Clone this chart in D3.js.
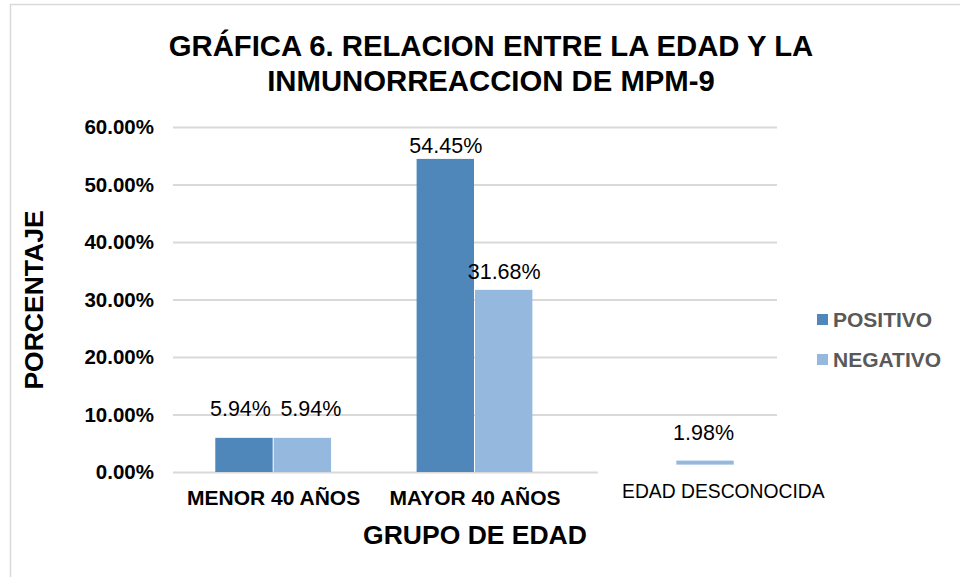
<!DOCTYPE html>
<html>
<head>
<meta charset="utf-8">
<script src="https://cdn.jsdelivr.net/npm/d3@7"></script>
<style>
  body { margin: 0; background: #fff; }
  svg { display: block; font-family: "Liberation Sans", Arial, sans-serif; }
</style>
</head>
<body>
<div id="chart"></div>
<script>
// datos
const categories = ["MENOR 40 AÑOS", "MAYOR 40 AÑOS", "EDAD DESCONOCIDA"];
const seriesNames = ["POSITIVO", "NEGATIVO"];
const positivo = [5.94, 54.45, null];
const negativo = [5.94, 31.68, 1.98];
const yTicks = [0, 10, 20, 30, 40, 50, 60];
const titleLines = ["GRÁFICA 6. RELACION ENTRE LA EDAD Y LA", "INMUNORREACCION DE MPM-9"];

const W = 960, H = 577;
const colors = { POSITIVO: "#4f87bb", NEGATIVO: "#95b8df" };

const svg = d3.select("#chart").append("svg")
  .attr("width", W).attr("height", H);

// marco del gráfico
svg.append("rect")
  .attr("x", 10.5).attr("y", 4.5)
  .attr("width", W).attr("height", H)
  .attr("fill", "#fff").attr("stroke", "#d9d9d9").attr("stroke-width", 1.5);

// escalas
const x = d3.scaleBand()
  .domain(categories)
  .range([173, 777])
  .paddingInner(0.42)
  .paddingOuter(0.21);

const x1 = d3.scaleBand()
  .domain(seriesNames)
  .range([0, x.bandwidth()]);

const y = d3.scaleLinear()
  .domain([0, 60])
  .range([472, 127]);

// título
svg.append("text")
  .attr("x", 491).attr("y", 56)
  .attr("text-anchor", "middle")
  .attr("font-size", 29.3).attr("font-weight", "bold").attr("fill", "#000")
  .selectAll("tspan").data(titleLines).enter().append("tspan")
  .attr("x", 491).attr("dy", (d, i) => i ? 35 : 0)
  .text(d => d);

// eje Y + líneas de cuadrícula
const yAxis = svg.append("g")
  .attr("transform", "translate(173,0)")
  .call(d3.axisLeft(y).tickValues(yTicks)
    .tickSize(-(777 - 173)).tickPadding(19)
    .tickFormat(d => d3.format(".2f")(d) + "%"));
yAxis.select(".domain").remove();
yAxis.selectAll(".tick line").attr("stroke", "#d9d9d9").attr("stroke-width", 2);
yAxis.selectAll(".tick text")
  .attr("font-size", 20.5).attr("font-weight", "bold").attr("fill", "#000")
  .attr("font-family", "Liberation Sans, Arial, sans-serif");

// barras
const rows = [];
categories.forEach((c, i) => {
  [["POSITIVO", positivo[i]], ["NEGATIVO", negativo[i]]].forEach(([s, v]) => {
    if (v != null) rows.push({ cat: c, serie: s, value: v, idx: i });
  });
});

svg.selectAll(".bar").data(rows).enter().append("rect")
  .attr("class", "bar")
  .attr("x", d => x(d.cat) + x1(d.serie))
  .attr("y", d => y(d.value))
  .attr("width", x1.bandwidth() - 1)
  .attr("height", d => y(0) - y(d.value))
  .attr("fill", d => colors[d.serie]);

// la tercera categoría aparece recortada en el original
const lastCat = categories[2];
svg.append("rect")
  .attr("x", x(lastCat) - 20)
  .attr("y", y(negativo[2]) + 4)
  .attr("width", 200)
  .attr("height", 40)
  .attr("fill", "#fff");

// etiquetas de datos (desplazamientos como en el original)
const lift = { "MENOR 40 AÑOS": [22, 22], "MAYOR 40 AÑOS": [6, 11], "EDAD DESCONOCIDA": [21, 21] };
const nudge = { "MENOR 40 AÑOS": [-4, 8], "MAYOR 40 AÑOS": [0, 0], "EDAD DESCONOCIDA": [-2, -2] };
svg.selectAll(".lbl").data(rows).enter().append("text")
  .attr("class", "lbl")
  .attr("x", d => x(d.cat) + x1(d.serie) + x1.bandwidth() / 2 + nudge[d.cat][d.serie === "POSITIVO" ? 0 : 1])
  .attr("y", d => y(d.value) - lift[d.cat][d.serie === "POSITIVO" ? 0 : 1])
  .attr("text-anchor", "middle")
  .attr("font-size", 21.5).attr("fill", "#000")
  .text(d => d3.format(".2f")(d.value) + "%");

// etiquetas del eje X
svg.selectAll(".xlab").data(categories).enter().append("text")
  .attr("class", "xlab")
  .attr("x", (d, i) => i < 2 ? x(d) + x.bandwidth() / 2 : x(d) + x.bandwidth() / 2 + 47)
  .attr("y", (d, i) => i < 2 ? 505 : 498)
  .attr("text-anchor", "middle")
  .attr("font-size", (d, i) => i < 2 ? 21 : 19.3)
  .attr("font-weight", (d, i) => i < 2 ? "bold" : "normal")
  .attr("fill", "#000")
  .text(d => d);

// títulos de ejes
svg.append("text")
  .attr("x", 475).attr("y", 544)
  .attr("text-anchor", "middle")
  .attr("font-size", 26.5).attr("font-weight", "bold")
  .text("GRUPO DE EDAD");

svg.append("text")
  .attr("transform", "translate(43,300) rotate(-90)")
  .attr("text-anchor", "middle")
  .attr("font-size", 26.5).attr("font-weight", "bold")
  .text("PORCENTAJE");

// leyenda
const legend = svg.append("g").attr("transform", "translate(817,314)");
const li = legend.selectAll("g").data(seriesNames).enter().append("g")
  .attr("transform", (d, i) => `translate(0,${i * 40})`);
li.append("rect").attr("width", 11).attr("height", 11).attr("fill", d => colors[d]);
li.append("text").attr("x", 16).attr("y", 13)
  .attr("font-size", 21).attr("font-weight", "bold").attr("fill", "#595959")
  .text(d => d);
</script>
</body>
</html>
